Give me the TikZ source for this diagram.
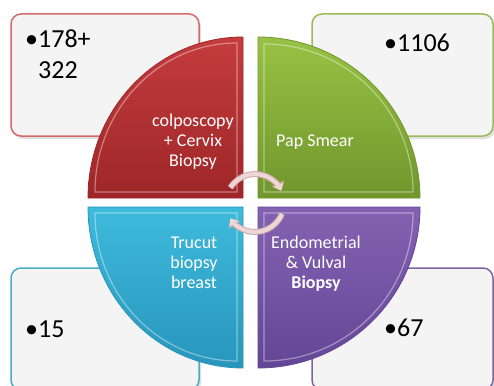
\documentclass[tikz,border=0pt]{standalone}
\usepackage{fontspec}
\setmainfont{Carlito}
\usetikzlibrary{arrows.meta,shadows}
\definecolor{qred}{RGB}{196,60,62}
\definecolor{qredd}{RGB}{158,38,40}
\definecolor{qgreen}{RGB}{152,194,68}
\definecolor{qgreend}{RGB}{112,150,44}
\definecolor{qcyan}{RGB}{62,186,220}
\definecolor{qcyand}{RGB}{40,150,188}
\definecolor{qpurple}{RGB}{132,98,178}
\definecolor{qpurpled}{RGB}{100,70,150}
\definecolor{bred}{RGB}{214,106,106}
\definecolor{bgreen}{RGB}{155,187,89}
\definecolor{bcyan}{RGB}{75,172,198}
\definecolor{bpurple}{RGB}{128,100,162}
\definecolor{boxfill}{RGB}{244,244,244}
\definecolor{arrowc}{RGB}{238,214,214}
\definecolor{arrowo}{RGB}{205,170,172}
\tikzset{
  infobox/.style={draw=#1, line width=1.5pt, fill=boxfill, rounded corners=10pt,
    minimum width=188pt, minimum height=122pt, inner sep=0pt,
    drop shadow={shadow xshift=2pt, shadow yshift=-3pt, opacity=0.25}},
  numtext/.style={font=\fontsize{26}{30}\selectfont, anchor=west, inner sep=0pt, align=left},
  qlabel/.style={font=\fontsize{18}{20}\selectfont, text=white, align=center, inner sep=0pt},
  bevel/.style={draw=white, draw opacity=0.4, line width=1.2pt},
  cycarrowo/.style={draw=arrowo, line width=6pt, -{Triangle[length=8pt,width=13pt]}},
  cycarrow/.style={draw=arrowc, line width=4pt, -{Triangle[length=6.5pt,width=10.5pt]}}
}
\begin{document}
\begin{tikzpicture}[x=1pt,y=-1pt]
\useasboundingbox (0,0) rectangle (494,385);
\clip (0,0) rectangle (494,385);
\fill[white] (0,0) rectangle (494,385);
% info boxes
\node[infobox=bred] (boxA) at (105,75) {};
\node[infobox=bgreen, minimum width=181pt] (boxB) at (402.5,75) {};
\node[infobox=bcyan] (boxC) at (105,329) {};
\node[infobox=bpurple, minimum width=181pt] (boxD) at (402.5,329) {};
% quadrants
\shade[top color=qred, bottom color=qredd, draw=qredd, line width=0.8pt]
  (243,198) -- (88,198) arc[start angle=180, end angle=270, x radius=155, y radius=161] -- cycle;
\draw[bevel] (237,192) -- (95,192) arc[start angle=180, end angle=270, x radius=142, y radius=149] -- cycle;
\shade[top color=qgreen, bottom color=qgreend, draw=qgreend, line width=0.8pt]
  (258,198) -- (258,37) arc[start angle=270, end angle=360, x radius=162, y radius=161] -- cycle;
\draw[bevel] (264,192) -- (264,44) arc[start angle=270, end angle=360, x radius=149, y radius=148] -- cycle;
\shade[top color=qcyan, bottom color=qcyand, draw=qcyand, line width=0.8pt]
  (243,207) -- (88,207) arc[start angle=180, end angle=90, x radius=155, y radius=161] -- cycle;
\draw[bevel] (237,213) -- (95,213) arc[start angle=180, end angle=90, x radius=142, y radius=148] -- cycle;
\shade[top color=qpurple, bottom color=qpurpled, draw=qpurpled, line width=0.8pt]
  (258,207) -- (420,207) arc[start angle=0, end angle=90, x radius=162, y radius=161] -- cycle;
\draw[bevel] (264,213) -- (413,213) arc[start angle=0, end angle=90, x radius=149, y radius=148] -- cycle;
% quadrant labels
\node[qlabel] (lA) at (193,142) {colposcopy\\+ Cervix\\Biopsy};
\node[qlabel] (lB) at (315,142) {Pap Smear};
\node[qlabel] (lC) at (194,263) {Trucut\\biopsy\\breast};
\node[qlabel] (lD) at (316,264) {Endometrial\\\& Vulval\\\textbf{Biopsy}};
% numbers
\node[numtext] (nA) at (25,57) {\begin{tabular}{@{}l@{}l@{}}\makebox[13pt][l]{•}&178+\\&322\end{tabular}};
\node[numtext] (nB) at (384,43) {\makebox[13pt][l]{•}1106};
\node[numtext] (nC) at (25,329) {\makebox[13pt][l]{•}15};
\node[numtext] (nD) at (384,328) {\makebox[13pt][l]{•}67};
% circular arrows
\coordinate (cc) at (255,203);
\draw[cycarrowo] (cc) ++(148:29pt) arc[start angle=148, end angle=25, radius=29pt];
\draw[cycarrow] (cc) ++(148:29pt) arc[start angle=148, end angle=25, radius=29pt];
\draw[cycarrowo] (cc) ++(-22:29pt) arc[start angle=-22, end angle=-148, radius=29pt];
\draw[cycarrow] (cc) ++(-22:29pt) arc[start angle=-22, end angle=-148, radius=29pt];
\end{tikzpicture}
\end{document}
